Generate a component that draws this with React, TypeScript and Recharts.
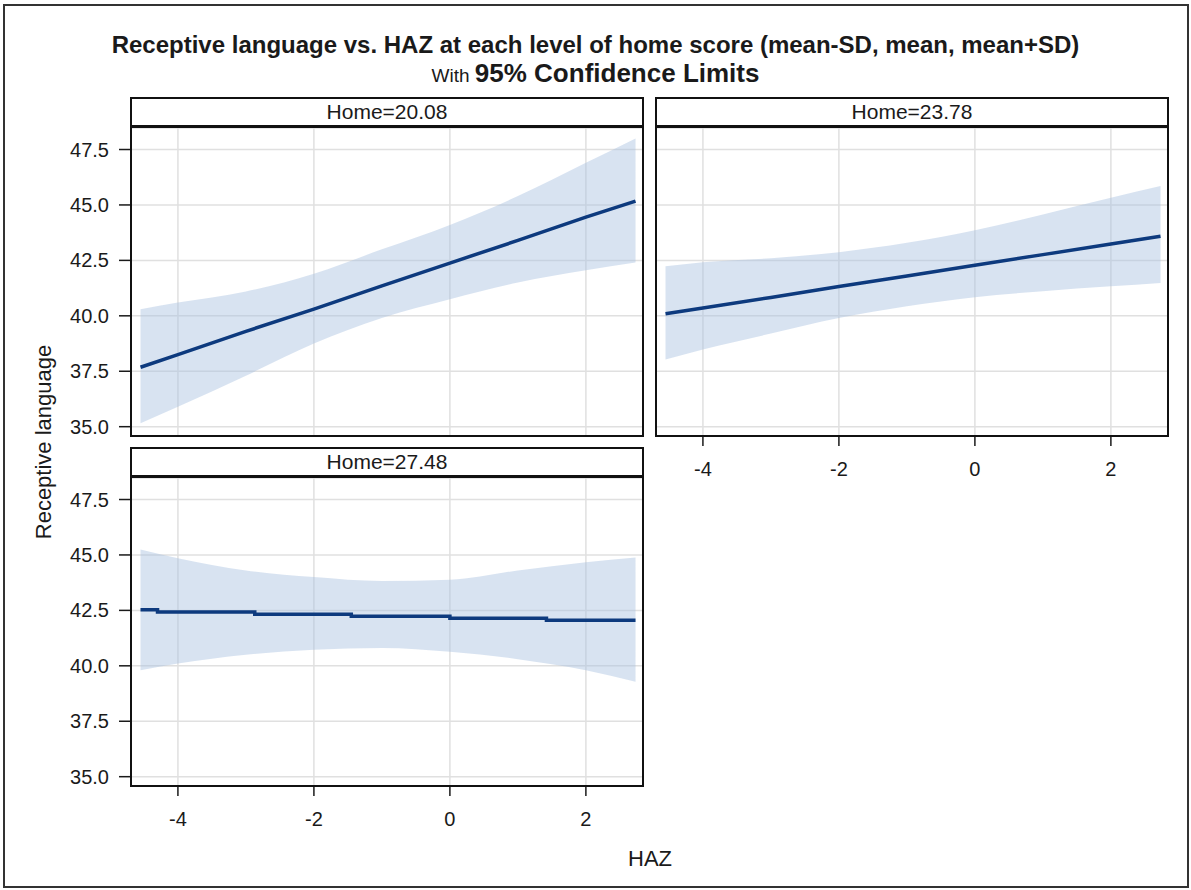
import React from 'react';
import { ComposedChart, Area, Line, XAxis, YAxis, CartesianGrid } from 'recharts';

const hazBand = [-4.55, -4, -3, -2, -1, 0, 1, 2, 2.73];

// Home = 20.08
const fit1 = [37.68, 38.25, 39.3, 40.3, 41.35, 42.38, 43.4, 44.45, 45.17];
const lower1 = [35.15, 35.9, 37.3, 38.75, 39.9, 40.75, 41.5, 42.05, 42.4];
const upper1 = [40.3, 40.6, 41.1, 41.9, 43.0, 44.1, 45.4, 46.9, 48.0];

// Home = 23.78
const fit2 = [40.09, 40.35, 40.83, 41.32, 41.8, 42.28, 42.76, 43.24, 43.59];
const lower2 = [38.03, 38.48, 39.2, 39.9, 40.43, 40.84, 41.11, 41.33, 41.48];
const upper2 = [42.24, 42.42, 42.6, 42.87, 43.29, 43.86, 44.57, 45.32, 45.85];

// Home = 27.48 (fitted line is drawn as steps)
const lower3 = [39.8, 40.1, 40.5, 40.73, 40.8, 40.63, 40.3, 39.8, 39.28];
const upper3 = [45.24, 44.85, 44.3, 44.0, 43.82, 43.88, 44.3, 44.67, 44.88];
const stepHaz3 = [-4.55, -4.3, -2.87, -1.45, 0, 1.42, 2.73];
const stepFit3 = [42.53, 42.43, 42.33, 42.23, 42.14, 42.05, 42.05];

const xTicks = [-4, -2, 0, 2];
const yTicks = [35, 37.5, 40, 42.5, 45, 47.5];
const xDomain = [-4.69, 2.84];
const yDomain = [34.58, 48.47];

const FONT = '"Liberation Sans", Arial, sans-serif';
const TEXT = '#1a1a1a';
const LINE = '#0d3a7e';

const bandRows = (lo: number[], hi: number[]) =>
  hazBand.map((x, i) => ({ x, band: [lo[i], hi[i]] }));
const fitRows = (xs: number[], ys: number[]) => xs.map((x, i) => ({ x, fit: ys[i] }));

// keeps ticks (so the grid is drawn) without printing a label
const NoTick = () => <g />;

interface PanelProps {
  left: number;
  top: number;
  lo: number[];
  hi: number[];
  fitX: number[];
  fitY: number[];
  step?: boolean;
  showX: boolean;
  showY: boolean;
}

const PLOT_W = 512;
const PLOT_H = 308;
const Y_W = 100;
const X_H = 60;

const Panel: React.FC<PanelProps> = ({ left, top, lo, hi, fitX, fitY, step, showX, showY }) => {
  const yW = showY ? Y_W : 0;
  // a little room below the plot even without x labels, so the lowest y label is not clipped
  const xH = showX ? X_H : 12;
  const tickStyle = { fontSize: 20, fill: TEXT, fontFamily: FONT };
  return (
    <div style={{ position: 'absolute', left: left - yW, top }}>
      <ComposedChart
        width={PLOT_W + yW}
        height={PLOT_H + xH}
        data={bandRows(lo, hi)}
        margin={{ top: 0, right: 0, bottom: 0, left: 0 }}
      >
        <CartesianGrid stroke="#e0e0e0" strokeWidth={1.5} />
        <XAxis
          type="number"
          dataKey="x"
          domain={xDomain}
          ticks={xTicks}
          interval={0}
          allowDataOverflow
          height={xH}
          axisLine={false}
          tick={showX ? tickStyle : NoTick}
          tickLine={showX ? { stroke: TEXT, strokeWidth: 1.5 } : false}
          tickSize={10}
          tickMargin={16}
        />
        <YAxis
          type="number"
          domain={yDomain}
          ticks={yTicks}
          interval={0}
          allowDataOverflow
          width={yW}
          axisLine={false}
          tick={showY ? tickStyle : NoTick}
          tickLine={showY ? { stroke: TEXT, strokeWidth: 1.5 } : false}
          tickSize={12}
          tickMargin={10}
          tickFormatter={(v: number) => v.toFixed(1)}
        />
        <Area
          dataKey="band"
          type="monotone"
          fill="#a9c0e0"
          fillOpacity={0.45}
          stroke="none"
          isAnimationActive={false}
        />
        <Line
          data={fitRows(fitX, fitY)}
          dataKey="fit"
          type={step ? 'stepAfter' : 'linear'}
          stroke={LINE}
          strokeWidth={3.5}
          dot={false}
          isAnimationActive={false}
        />
      </ComposedChart>
    </div>
  );
};

const Frame: React.FC<{ left: number; top: number; label: string }> = ({ left, top, label }) => (
  <>
    <div
      style={{
        position: 'absolute',
        left: left - 1,
        top: top - 31,
        width: PLOT_W + 2,
        height: PLOT_H + 32,
        border: '2px solid #111',
        boxSizing: 'border-box',
        pointerEvents: 'none',
      }}
    />
    <div
      style={{
        position: 'absolute',
        left: left - 1,
        top: top - 3,
        width: PLOT_W + 2,
        height: 3,
        background: '#111',
      }}
    />
    <div
      style={{
        position: 'absolute',
        left,
        top: top - 30,
        width: PLOT_W,
        height: 27,
        lineHeight: '27px',
        textAlign: 'center',
        fontFamily: FONT,
        fontSize: 21,
        color: TEXT,
      }}
    >
      {label}
    </div>
  </>
);

export default function App() {
  return (
    <div
      style={{
        position: 'absolute',
        left: 0,
        top: 0,
        width: 1191,
        height: 890,
        background: '#fff',
        overflow: 'hidden',
        fontFamily: FONT,
        color: TEXT,
      }}
    >
      <div
        style={{
          position: 'absolute',
          left: 3,
          top: 4,
          width: 1186,
          height: 884,
          border: '2px solid #333',
          boxSizing: 'border-box',
        }}
      />
      <div style={{ position: 'absolute', left: 0, width: 1191, top: 30, textAlign: 'center', fontSize: 24, fontWeight: 'bold', lineHeight: '30px' }}>
        Receptive language vs. HAZ at each level of home score (mean-SD, mean, mean+SD)
      </div>
      <div style={{ position: 'absolute', left: 0, width: 1191, top: 57, textAlign: 'center', lineHeight: '32px' }}>
        <span style={{ fontSize: 19 }}>With </span>
        <span style={{ fontSize: 26, fontWeight: 'bold' }}>95% Confidence Limits</span>
      </div>

      <Panel left={131} top={128} lo={lower1} hi={upper1} fitX={hazBand} fitY={fit1} showX={false} showY />
      <Panel left={656} top={128} lo={lower2} hi={upper2} fitX={hazBand} fitY={fit2} showX showY={false} />
      <Panel left={131} top={478} lo={lower3} hi={upper3} fitX={stepHaz3} fitY={stepFit3} step showX showY />

      <Frame left={131} top={128} label="Home=20.08" />
      <Frame left={656} top={128} label="Home=23.78" />
      <Frame left={131} top={478} label="Home=27.48" />

      <svg style={{ position: 'absolute', left: 0, top: 0 }} width={1191} height={890}>
        <text
          x={0}
          y={0}
          transform="translate(51 442) rotate(-90)"
          textAnchor="middle"
          fontSize={22}
          fontFamily={FONT}
          fill={TEXT}
        >
          Receptive language
        </text>
        <text x={650} y={866} textAnchor="middle" fontSize={22} fontFamily={FONT} fill={TEXT}>
          HAZ
        </text>
      </svg>
    </div>
  );
}
